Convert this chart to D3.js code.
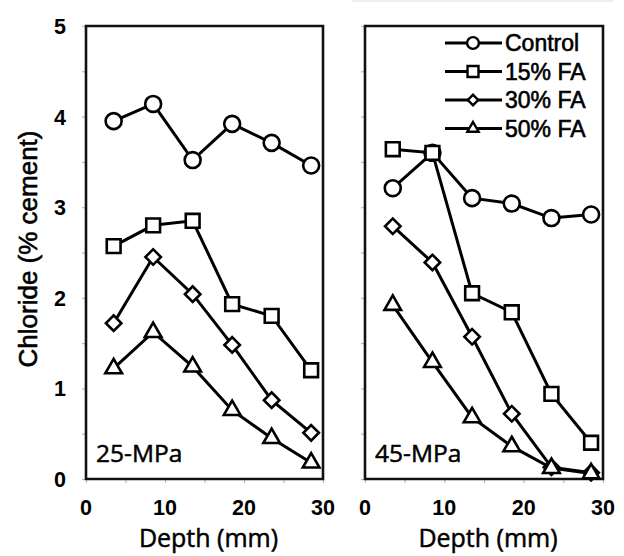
<!DOCTYPE html>
<html>
<head>
<meta charset="utf-8">
<script src="https://cdn.jsdelivr.net/npm/d3@7"></script>
<style>
  body { margin: 0; background: #fff; }
  svg { display: block; }
</style>
</head>
<body>
<svg id="chart" width="624" height="556"></svg>
<script>
// depth of each sample (mm)
var depth = [3.5, 8.5, 13.5, 18.5, 23.5, 28.5];
var seriesNames = ["Control", "15% FA", "30% FA", "50% FA"];
var xTicks = [0, 10, 20, 30];
var yTicks = [0, 1, 2, 3, 4, 5];

// 25-MPa panel
var control25 = [3.95, 4.14, 3.52, 3.92, 3.71, 3.46];
var fa15_25 = [2.57, 2.80, 2.85, 1.93, 1.80, 1.20];
var fa30_25 = [1.72, 2.45, 2.04, 1.48, 0.87, 0.51];
var fa50_25 = [1.22, 1.62, 1.24, 0.76, 0.45, 0.18];

// 45-MPa panel
var control45 = [3.21, 3.60, 3.10, 3.04, 2.88, 2.92];
var fa15_45 = [3.64, 3.60, 2.05, 1.84, 0.94, 0.40];
var fa30_45 = [2.79, 2.39, 1.57, 0.72, 0.13, 0.07];
var fa50_45 = [1.92, 1.29, 0.68, 0.36, 0.12, 0.06];

var svg = d3.select("#chart");
var TOP = 26, BOTTOM = 479;
var ARIAL = "Liberation Sans, Arial, sans-serif";

var yScale = d3.scaleLinear().domain([0, 5]).range([BOTTOM, TOP]);

var symbols = [d3.symbolCircle, d3.symbolSquare, d3.symbolSquare, d3.symbolTriangle];
var symSize = [200, 190, 120, 120];
var legSize = [110, 120, 55, 55];
var symRotate = [0, 0, 45, 0];

// faint scan edge at the top
svg.append("line")
    .attr("x1", 352).attr("x2", 613).attr("y1", 1).attr("y2", 1)
    .attr("stroke", "#eee").attr("stroke-width", 2);

function drawPanel(left, right, series, label, showY) {
    var xScale = d3.scaleLinear().domain([0, 30]).range([left, right]);
    var g = svg.append("g");

    // minor ticks
    var yAxis = d3.axisLeft(yScale).tickValues(d3.range(0, 5.01, 0.5)).tickSize(4).tickFormat("");
    var ga = g.append("g").attr("transform", "translate(" + left + ",0)").call(yAxis);
    ga.select(".domain").remove();
    ga.selectAll("line").attr("stroke", "#bbb").attr("stroke-width", 1.2);

    var xAxis = d3.axisBottom(xScale).tickValues(d3.range(0, 31, 5)).tickSize(4).tickFormat("");
    var gx = g.append("g").attr("transform", "translate(0," + BOTTOM + ")").call(xAxis);
    gx.select(".domain").remove();
    gx.selectAll("line").attr("stroke", "#bbb").attr("stroke-width", 1.2);

    // frame
    g.append("path")
        .attr("d", "M" + left + "," + BOTTOM + "L" + left + "," + TOP + "L" + right + "," + TOP +
              "L" + right + "," + BOTTOM + "Z")
        .attr("fill", "none").attr("stroke", "#111").attr("stroke-width", 2.6);

    // x tick labels
    g.selectAll(".xl").data(xTicks).enter().append("text")
        .attr("x", function(d) { return xScale(d); })
        .attr("y", 515)
        .attr("text-anchor", "middle")
        .attr("font-family", ARIAL)
        .attr("font-weight", "bold").attr("font-size", 21.5)
        .text(function(d) { return d; });

    if (showY) {
        g.selectAll(".yl").data(yTicks).enter().append("text")
            .attr("x", 66)
            .attr("y", function(d) { return yScale(d) + 8; })
            .attr("text-anchor", "end")
            .attr("font-family", ARIAL)
            .attr("font-weight", "bold").attr("font-size", 21.5)
            .text(function(d) { return d; });
    }

    var line = d3.line()
        .x(function(d, i) { return xScale(depth[i]); })
        .y(function(d) { return yScale(d); });

    series.forEach(function(s) {
        g.append("path").datum(s).attr("d", line)
            .attr("fill", "none").attr("stroke", "#000").attr("stroke-width", 3);
    });
    series.forEach(function(s, k) {
        g.selectAll(".m" + k).data(s).enter().append("path")
            .attr("d", d3.symbol().type(symbols[k]).size(symSize[k]))
            .attr("transform", function(d, i) {
                return "translate(" + xScale(depth[i]) + "," + yScale(d) + ") rotate(" + symRotate[k] + ")";
            })
            .attr("fill", "#fff").attr("stroke", "#000").attr("stroke-width", 2.6);
    });

    g.append("text")
        .attr("x", left + 10).attr("y", 462)
        .attr("font-family", "Open Sans, sans-serif").attr("font-size", 24.5)
        .attr("stroke", "#000").attr("stroke-width", 0.5)
        .text(label);

    g.append("text")
        .attr("x", (left + right) / 2 + 4).attr("y", 547)
        .attr("text-anchor", "middle")
        .attr("font-family", "Open Sans, sans-serif").attr("font-size", 25)
        .attr("stroke", "#000").attr("stroke-width", 0.5)
        .text("Depth (mm)");
}

drawPanel(86, 323, [control25, fa15_25, fa30_25, fa50_25], "25-MPa", true);
drawPanel(365, 603, [control45, fa15_45, fa30_45, fa50_45], "45-MPa", false);

// y axis title
svg.append("text")
    .attr("transform", "translate(37,249) rotate(-90)")
    .attr("text-anchor", "middle")
    .attr("font-family", ARIAL).attr("font-size", 26)
    .attr("stroke", "#000").attr("stroke-width", 0.6)
    .text("Chloride (% cement)");

// legend
var leg = svg.append("g");
seriesNames.forEach(function(name, k) {
    var yy = 43 + k * 28.5;
    leg.append("line").attr("x1", 445).attr("x2", 502).attr("y1", yy).attr("y2", yy)
        .attr("stroke", "#000").attr("stroke-width", 3);
    leg.append("path")
        .attr("d", d3.symbol().type(symbols[k]).size(legSize[k]))
        .attr("transform", "translate(473," + yy + ") rotate(" + symRotate[k] + ")")
        .attr("fill", "#fff").attr("stroke", "#000").attr("stroke-width", 2.4);
    leg.append("text").attr("x", 505).attr("y", yy + 8)
        .attr("font-family", ARIAL).attr("font-size", 23)
        .attr("stroke", "#000").attr("stroke-width", 0.6)
        .text(name);
});
</script>
</body>
</html>
